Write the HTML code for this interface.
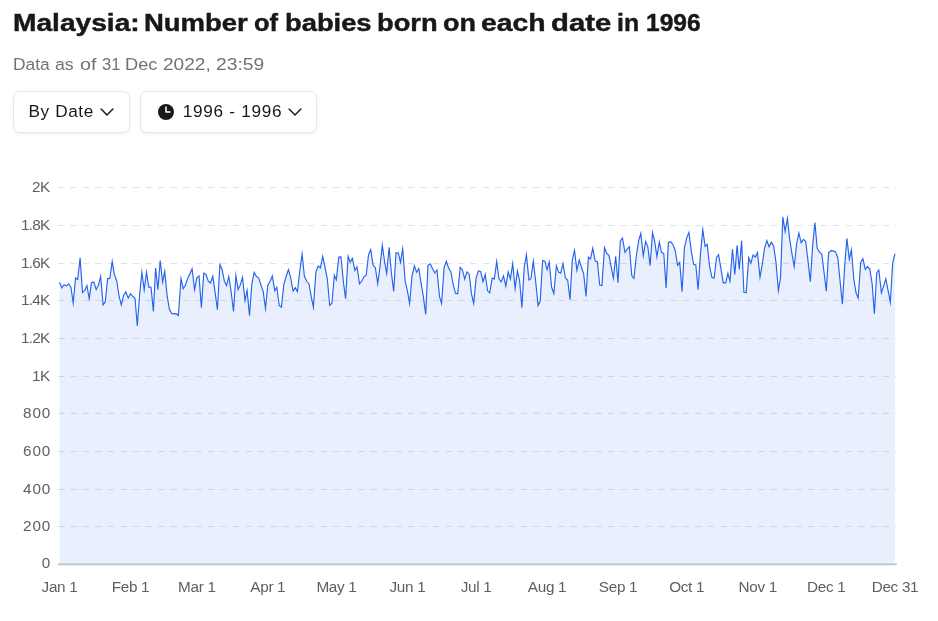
<!DOCTYPE html>
<html lang="en"><head><meta charset="utf-8"><title>Malaysia: Number of babies born on each date in 1996</title>
<style>
html,body{margin:0;padding:0;background:#fff}
body{width:938px;height:621px;position:relative;overflow:hidden;font-family:"Liberation Sans",sans-serif;color:#18181b}
h1{position:absolute;left:0;top:8.2px;margin:0;width:938px;height:30px;font-size:24.6px;line-height:30px;font-weight:700;white-space:nowrap;color:#18181b;-webkit-text-stroke:0.45px #18181b}
h1 span{position:absolute;top:0;transform-origin:0 0;display:block}
.sub{position:absolute;left:0;top:52.7px;width:938px;height:22px;font-size:17.2px;line-height:22px;color:#71717a;white-space:nowrap}
.sub span{position:absolute;top:0;transform-origin:0 0;display:block}
.btn{position:absolute;top:90.7px;height:42px;box-sizing:border-box;border:1.04px solid #e2e8f0;border-radius:6.5px;background:#fff;box-shadow:0 1px 2.5px rgba(15,23,42,0.07);font-size:17.2px;line-height:39px;color:#18181b;white-space:nowrap}
.btn span{position:absolute;top:0}
.btn svg{position:absolute}
.yl{position:absolute;left:0;width:50.3px;text-align:right;font-size:15.3px;line-height:20px;height:20px;color:#5f5f5f;white-space:nowrap}
.xl{position:absolute;top:576.5px;width:80px;text-align:center;font-size:15.3px;letter-spacing:-0.3px;line-height:20px;height:20px;color:#5f5f5f;white-space:nowrap}
svg.chart{position:absolute;left:0;top:0}
</style></head><body>
<h1><span style="left:13.0px;transform:scaleX(1.144)">Malaysia:</span> <span style="left:144.3px;transform:scaleX(1.117)">Number</span> <span style="left:254.4px;transform:scaleX(1.035)">of</span> <span style="left:285.3px;transform:scaleX(1.111)">babies</span> <span style="left:377.4px;transform:scaleX(1.108)">born</span> <span style="left:442.7px;transform:scaleX(1.096)">on</span> <span style="left:480.8px;transform:scaleX(1.152)">each</span> <span style="left:550.7px;transform:scaleX(1.190)">date</span> <span style="left:616.9px;transform:scaleX(1.010)">in</span> <span style="left:645.6px;transform:scaleX(0.998)">1996</span></h1>
<div class="sub"><span style="left:13.2px;transform:scaleX(1.014)">Data</span> <span style="left:55.4px;transform:scaleX(1.029)">as</span> <span style="left:79.5px;transform:scaleX(1.146)">of</span> <span style="left:102.0px;transform:scaleX(0.965)">31</span> <span style="left:124.7px;transform:scaleX(1.062)">Dec</span> <span style="left:162.5px;transform:scaleX(1.110)">2022,</span> <span style="left:215.5px;transform:scaleX(1.120)">23:59</span></div>
<div class="btn" style="left:13px;width:116.8px"><span style="left:14.5px;letter-spacing:0.6px">By Date</span>
<svg style="left:83.4px;top:10.8px" width="20" height="20" viewBox="0 0 20 20" fill="none" stroke="#18181b" stroke-width="1.45" stroke-linecap="round" stroke-linejoin="round"><path d="M4.1 7.0 L10 13.0 L15.9 7.0"/></svg></div>
<div class="btn" style="left:140.3px;width:176.6px">
<svg style="left:16.6px;top:12.1px" width="16" height="16" viewBox="0 0 16 16"><circle cx="8" cy="8" r="8" fill="#18181b"/><path d="M8 3 V8 H12" fill="none" stroke="#fff" stroke-width="1.5" stroke-linecap="round" stroke-linejoin="round"/></svg>
<span style="left:41.5px;letter-spacing:0.7px">1996 - 1996</span>
<svg style="left:143.9px;top:10.8px" width="20" height="20" viewBox="0 0 20 20" fill="none" stroke="#18181b" stroke-width="1.45" stroke-linecap="round" stroke-linejoin="round"><path d="M4.1 7.0 L10 13.0 L15.9 7.0"/></svg></div>
<svg class="chart" width="938" height="621" viewBox="0 0 938 621">
<g stroke="#dde4ef" stroke-width="1.1" stroke-dasharray="6.25 6.25" fill="none"><line x1="58.0" x2="896.8" y1="187.50" y2="187.50"/><line x1="58.0" x2="896.8" y1="225.45" y2="225.45"/><line x1="58.0" x2="896.8" y1="263.50" y2="263.50"/><line x1="58.0" x2="896.8" y1="300.45" y2="300.45"/><line x1="58.0" x2="896.8" y1="338.45" y2="338.45"/><line x1="58.0" x2="896.8" y1="376.45" y2="376.45"/><line x1="58.0" x2="896.8" y1="413.40" y2="413.40"/><line x1="58.0" x2="896.8" y1="451.45" y2="451.45"/><line x1="58.0" x2="896.8" y1="489.45" y2="489.45"/><line x1="58.0" x2="896.8" y1="526.45" y2="526.45"/></g>
<path d="M59.5 282.2 L61.8 287.9 L64.1 284.7 L66.4 285.9 L68.6 283.8 L70.9 287.2 L73.2 302.9 L75.6 278.0 L77.7 279.4 L80.1 257.9 L82.5 292.5 L84.7 290.4 L86.9 285.7 L89.2 298.7 L91.5 282.8 L93.8 282.0 L96.2 289.6 L98.4 285.3 L100.6 276.4 L103.1 304.9 L105.3 301.7 L107.6 278.6 L109.8 278.4 L112.2 261.6 L114.4 274.6 L116.7 280.7 L119.0 296.0 L121.3 304.9 L123.6 295.4 L125.8 291.9 L128.2 298.1 L130.5 293.7 L132.8 296.3 L135.0 298.3 L137.3 326.0 L139.6 294.8 L141.9 272.3 L144.2 289.9 L146.5 272.3 L148.8 287.2 L151.0 287.0 L153.4 311.4 L155.6 268.0 L157.9 289.7 L160.2 260.5 L162.6 282.1 L164.7 271.5 L167.1 295.4 L169.4 309.3 L171.7 313.4 L174.0 313.9 L176.2 313.7 L178.4 315.6 L181.0 278.6 L183.2 288.7 L185.4 285.3 L187.7 278.4 L190.0 273.6 L192.1 268.9 L194.6 289.7 L196.8 277.8 L199.0 275.9 L201.4 307.6 L203.8 273.0 L206.0 274.6 L208.3 281.2 L210.5 283.0 L212.8 276.3 L215.1 292.3 L217.4 309.6 L219.9 264.5 L222.0 268.9 L224.3 280.9 L226.5 285.6 L228.8 276.6 L231.2 292.3 L233.5 311.4 L235.9 275.5 L238.1 289.6 L240.3 284.9 L242.5 277.5 L245.0 300.5 L247.1 290.4 L249.5 315.6 L251.8 284.1 L254.2 272.4 L256.4 276.5 L258.6 277.8 L261.0 285.3 L263.2 291.6 L265.5 308.5 L267.8 285.3 L270.1 281.2 L272.3 276.0 L274.8 290.7 L276.8 287.2 L279.2 305.5 L281.4 307.1 L283.8 284.9 L286.1 276.5 L288.4 269.7 L290.7 277.8 L293.1 291.1 L295.3 287.7 L297.4 291.7 L299.9 270.0 L302.1 254.1 L304.4 276.3 L306.7 281.3 L309.0 283.9 L311.3 297.1 L313.4 307.2 L315.9 271.9 L318.2 266.0 L320.4 267.9 L322.7 256.3 L325.0 266.9 L327.3 278.8 L329.7 305.3 L331.9 303.3 L334.3 275.2 L336.3 279.8 L338.8 257.1 L341.0 256.9 L343.4 282.0 L345.6 298.7 L348.1 256.3 L350.2 262.1 L352.4 258.4 L354.9 270.4 L357.0 266.9 L359.5 283.9 L361.6 281.3 L363.9 276.9 L366.2 275.1 L368.5 255.0 L370.7 249.6 L373.1 265.0 L375.4 267.9 L377.7 283.7 L379.9 267.5 L382.3 245.3 L384.6 261.9 L386.7 273.5 L389.1 247.4 L391.4 273.2 L393.7 291.4 L396.0 252.9 L398.3 253.1 L400.5 262.4 L402.7 248.8 L405.2 281.3 L407.4 290.8 L409.6 303.5 L412.0 276.3 L414.4 265.8 L416.6 272.2 L418.8 268.7 L421.1 283.2 L423.4 297.1 L425.7 314.4 L428.0 265.4 L430.3 263.8 L432.6 268.8 L434.9 273.0 L437.0 270.0 L439.5 296.4 L441.6 303.6 L444.1 267.5 L446.3 261.2 L448.6 268.1 L450.9 271.9 L453.2 284.5 L455.5 293.3 L457.7 293.8 L460.2 267.3 L462.4 269.7 L464.7 279.2 L467.0 271.9 L469.2 274.2 L471.5 293.9 L473.7 303.4 L476.1 278.2 L478.4 271.0 L480.7 271.7 L483.0 281.7 L485.2 274.4 L487.6 290.8 L489.7 292.8 L492.2 278.1 L494.3 279.1 L496.7 261.6 L499.0 278.8 L501.2 281.9 L503.5 275.9 L505.8 286.2 L508.2 272.0 L510.4 278.9 L512.7 263.7 L515.1 288.6 L517.4 271.0 L519.6 280.7 L521.9 307.7 L524.2 267.5 L526.4 254.7 L528.9 279.9 L531.0 278.5 L533.3 261.2 L535.6 280.7 L538.1 305.6 L540.2 301.1 L542.6 260.4 L544.8 261.1 L547.1 269.6 L549.2 262.2 L551.6 287.2 L553.8 293.5 L556.4 265.8 L558.5 272.1 L560.7 273.2 L563.0 263.7 L565.4 277.8 L567.7 280.3 L570.0 299.8 L572.3 260.1 L574.5 250.4 L576.9 270.4 L579.2 260.0 L581.4 267.0 L583.7 274.0 L586.0 296.4 L588.4 257.2 L590.5 258.9 L592.8 248.2 L595.1 261.1 L597.4 261.6 L599.7 285.0 L601.9 285.5 L604.5 247.7 L606.6 253.2 L608.9 255.3 L611.1 266.4 L613.4 278.2 L615.7 256.3 L618.0 282.7 L620.3 240.9 L622.5 238.1 L625.0 252.5 L627.2 249.2 L629.3 246.7 L631.8 275.8 L633.9 278.3 L636.4 255.5 L638.6 240.9 L640.8 233.4 L643.3 255.8 L645.6 241.5 L647.8 246.6 L650.1 265.7 L652.5 232.6 L654.6 240.9 L656.9 256.7 L659.3 241.8 L661.5 252.3 L663.8 253.6 L666.1 287.9 L668.4 242.5 L670.7 241.6 L673.0 244.7 L675.2 250.4 L677.6 265.2 L679.7 262.4 L682.1 291.7 L684.4 247.9 L686.7 237.8 L688.9 232.4 L691.3 251.1 L693.6 264.4 L695.8 265.0 L698.1 289.7 L700.5 253.6 L702.8 229.6 L705.1 246.3 L707.2 244.4 L709.6 266.3 L711.9 277.4 L714.1 278.2 L716.5 257.4 L718.6 254.6 L721.0 268.8 L723.3 282.8 L725.6 282.8 L727.9 273.3 L730.0 281.1 L732.5 249.2 L734.8 274.5 L737.1 245.4 L739.3 269.5 L741.6 240.9 L743.9 292.3 L746.2 292.6 L748.7 257.6 L750.8 263.1 L753.1 255.1 L755.3 257.0 L757.5 252.5 L760.0 277.3 L762.2 264.4 L764.5 248.5 L766.8 240.6 L769.1 246.8 L771.4 242.2 L773.7 246.2 L776.0 262.5 L778.4 290.7 L780.5 278.0 L782.8 216.9 L785.1 231.5 L787.4 218.4 L789.7 239.6 L792.0 254.0 L794.2 266.7 L796.6 244.0 L798.9 233.2 L801.2 242.9 L803.5 239.3 L805.7 241.4 L808.0 261.0 L810.3 281.6 L812.6 246.5 L814.9 222.6 L817.2 248.4 L819.5 252.2 L821.8 254.1 L824.1 272.9 L826.3 291.1 L828.6 252.8 L830.9 250.6 L833.2 250.9 L835.5 251.9 L837.8 257.7 L840.1 281.4 L842.4 304.1 L844.7 265.7 L846.9 238.4 L849.3 259.2 L851.4 249.8 L853.8 279.1 L856.1 293.0 L858.2 298.1 L860.7 262.1 L862.9 258.7 L865.3 269.4 L867.5 266.7 L869.8 269.1 L872.1 283.5 L874.4 313.6 L876.7 272.9 L878.8 270.0 L881.4 292.9 L883.6 286.1 L885.8 278.9 L888.2 291.1 L890.3 302.4 L892.7 262.9 L895.0 253.7 L895.0 564.0 L59.5 564.0 Z" fill="rgba(37,99,235,0.1)" stroke="none"/>
<line x1="58.0" x2="896.9" y1="564.4" y2="564.4" stroke="#bcc5d6" stroke-width="1.6"/>
<path d="M59.5 282.2 L61.8 287.9 L64.1 284.7 L66.4 285.9 L68.6 283.8 L70.9 287.2 L73.2 302.9 L75.6 278.0 L77.7 279.4 L80.1 257.9 L82.5 292.5 L84.7 290.4 L86.9 285.7 L89.2 298.7 L91.5 282.8 L93.8 282.0 L96.2 289.6 L98.4 285.3 L100.6 276.4 L103.1 304.9 L105.3 301.7 L107.6 278.6 L109.8 278.4 L112.2 261.6 L114.4 274.6 L116.7 280.7 L119.0 296.0 L121.3 304.9 L123.6 295.4 L125.8 291.9 L128.2 298.1 L130.5 293.7 L132.8 296.3 L135.0 298.3 L137.3 326.0 L139.6 294.8 L141.9 272.3 L144.2 289.9 L146.5 272.3 L148.8 287.2 L151.0 287.0 L153.4 311.4 L155.6 268.0 L157.9 289.7 L160.2 260.5 L162.6 282.1 L164.7 271.5 L167.1 295.4 L169.4 309.3 L171.7 313.4 L174.0 313.9 L176.2 313.7 L178.4 315.6 L181.0 278.6 L183.2 288.7 L185.4 285.3 L187.7 278.4 L190.0 273.6 L192.1 268.9 L194.6 289.7 L196.8 277.8 L199.0 275.9 L201.4 307.6 L203.8 273.0 L206.0 274.6 L208.3 281.2 L210.5 283.0 L212.8 276.3 L215.1 292.3 L217.4 309.6 L219.9 264.5 L222.0 268.9 L224.3 280.9 L226.5 285.6 L228.8 276.6 L231.2 292.3 L233.5 311.4 L235.9 275.5 L238.1 289.6 L240.3 284.9 L242.5 277.5 L245.0 300.5 L247.1 290.4 L249.5 315.6 L251.8 284.1 L254.2 272.4 L256.4 276.5 L258.6 277.8 L261.0 285.3 L263.2 291.6 L265.5 308.5 L267.8 285.3 L270.1 281.2 L272.3 276.0 L274.8 290.7 L276.8 287.2 L279.2 305.5 L281.4 307.1 L283.8 284.9 L286.1 276.5 L288.4 269.7 L290.7 277.8 L293.1 291.1 L295.3 287.7 L297.4 291.7 L299.9 270.0 L302.1 254.1 L304.4 276.3 L306.7 281.3 L309.0 283.9 L311.3 297.1 L313.4 307.2 L315.9 271.9 L318.2 266.0 L320.4 267.9 L322.7 256.3 L325.0 266.9 L327.3 278.8 L329.7 305.3 L331.9 303.3 L334.3 275.2 L336.3 279.8 L338.8 257.1 L341.0 256.9 L343.4 282.0 L345.6 298.7 L348.1 256.3 L350.2 262.1 L352.4 258.4 L354.9 270.4 L357.0 266.9 L359.5 283.9 L361.6 281.3 L363.9 276.9 L366.2 275.1 L368.5 255.0 L370.7 249.6 L373.1 265.0 L375.4 267.9 L377.7 283.7 L379.9 267.5 L382.3 245.3 L384.6 261.9 L386.7 273.5 L389.1 247.4 L391.4 273.2 L393.7 291.4 L396.0 252.9 L398.3 253.1 L400.5 262.4 L402.7 248.8 L405.2 281.3 L407.4 290.8 L409.6 303.5 L412.0 276.3 L414.4 265.8 L416.6 272.2 L418.8 268.7 L421.1 283.2 L423.4 297.1 L425.7 314.4 L428.0 265.4 L430.3 263.8 L432.6 268.8 L434.9 273.0 L437.0 270.0 L439.5 296.4 L441.6 303.6 L444.1 267.5 L446.3 261.2 L448.6 268.1 L450.9 271.9 L453.2 284.5 L455.5 293.3 L457.7 293.8 L460.2 267.3 L462.4 269.7 L464.7 279.2 L467.0 271.9 L469.2 274.2 L471.5 293.9 L473.7 303.4 L476.1 278.2 L478.4 271.0 L480.7 271.7 L483.0 281.7 L485.2 274.4 L487.6 290.8 L489.7 292.8 L492.2 278.1 L494.3 279.1 L496.7 261.6 L499.0 278.8 L501.2 281.9 L503.5 275.9 L505.8 286.2 L508.2 272.0 L510.4 278.9 L512.7 263.7 L515.1 288.6 L517.4 271.0 L519.6 280.7 L521.9 307.7 L524.2 267.5 L526.4 254.7 L528.9 279.9 L531.0 278.5 L533.3 261.2 L535.6 280.7 L538.1 305.6 L540.2 301.1 L542.6 260.4 L544.8 261.1 L547.1 269.6 L549.2 262.2 L551.6 287.2 L553.8 293.5 L556.4 265.8 L558.5 272.1 L560.7 273.2 L563.0 263.7 L565.4 277.8 L567.7 280.3 L570.0 299.8 L572.3 260.1 L574.5 250.4 L576.9 270.4 L579.2 260.0 L581.4 267.0 L583.7 274.0 L586.0 296.4 L588.4 257.2 L590.5 258.9 L592.8 248.2 L595.1 261.1 L597.4 261.6 L599.7 285.0 L601.9 285.5 L604.5 247.7 L606.6 253.2 L608.9 255.3 L611.1 266.4 L613.4 278.2 L615.7 256.3 L618.0 282.7 L620.3 240.9 L622.5 238.1 L625.0 252.5 L627.2 249.2 L629.3 246.7 L631.8 275.8 L633.9 278.3 L636.4 255.5 L638.6 240.9 L640.8 233.4 L643.3 255.8 L645.6 241.5 L647.8 246.6 L650.1 265.7 L652.5 232.6 L654.6 240.9 L656.9 256.7 L659.3 241.8 L661.5 252.3 L663.8 253.6 L666.1 287.9 L668.4 242.5 L670.7 241.6 L673.0 244.7 L675.2 250.4 L677.6 265.2 L679.7 262.4 L682.1 291.7 L684.4 247.9 L686.7 237.8 L688.9 232.4 L691.3 251.1 L693.6 264.4 L695.8 265.0 L698.1 289.7 L700.5 253.6 L702.8 229.6 L705.1 246.3 L707.2 244.4 L709.6 266.3 L711.9 277.4 L714.1 278.2 L716.5 257.4 L718.6 254.6 L721.0 268.8 L723.3 282.8 L725.6 282.8 L727.9 273.3 L730.0 281.1 L732.5 249.2 L734.8 274.5 L737.1 245.4 L739.3 269.5 L741.6 240.9 L743.9 292.3 L746.2 292.6 L748.7 257.6 L750.8 263.1 L753.1 255.1 L755.3 257.0 L757.5 252.5 L760.0 277.3 L762.2 264.4 L764.5 248.5 L766.8 240.6 L769.1 246.8 L771.4 242.2 L773.7 246.2 L776.0 262.5 L778.4 290.7 L780.5 278.0 L782.8 216.9 L785.1 231.5 L787.4 218.4 L789.7 239.6 L792.0 254.0 L794.2 266.7 L796.6 244.0 L798.9 233.2 L801.2 242.9 L803.5 239.3 L805.7 241.4 L808.0 261.0 L810.3 281.6 L812.6 246.5 L814.9 222.6 L817.2 248.4 L819.5 252.2 L821.8 254.1 L824.1 272.9 L826.3 291.1 L828.6 252.8 L830.9 250.6 L833.2 250.9 L835.5 251.9 L837.8 257.7 L840.1 281.4 L842.4 304.1 L844.7 265.7 L846.9 238.4 L849.3 259.2 L851.4 249.8 L853.8 279.1 L856.1 293.0 L858.2 298.1 L860.7 262.1 L862.9 258.7 L865.3 269.4 L867.5 266.7 L869.8 269.1 L872.1 283.5 L874.4 313.6 L876.7 272.9 L878.8 270.0 L881.4 292.9 L883.6 286.1 L885.8 278.9 L888.2 291.1 L890.3 302.4 L892.7 262.9 L895.0 253.7" fill="none" stroke="#2563eb" stroke-width="1.15" stroke-linejoin="miter" stroke-miterlimit="10" stroke-linecap="butt"/>
</svg>
<div class="yl" style="top:176.80px;letter-spacing:-0.4px;width:49.90px">2K</div><div class="yl" style="top:214.75px;letter-spacing:-0.7px;width:49.60px">1.8K</div><div class="yl" style="top:252.80px;letter-spacing:-0.7px;width:49.60px">1.6K</div><div class="yl" style="top:289.75px;letter-spacing:-0.7px;width:49.60px">1.4K</div><div class="yl" style="top:327.75px;letter-spacing:-0.7px;width:49.60px">1.2K</div><div class="yl" style="top:365.75px;letter-spacing:-0.4px;width:49.90px">1K</div><div class="yl" style="top:402.70px;letter-spacing:0.85px;width:51.15px">800</div><div class="yl" style="top:440.75px;letter-spacing:0.85px;width:51.15px">600</div><div class="yl" style="top:478.75px;letter-spacing:0.85px;width:51.15px">400</div><div class="yl" style="top:515.75px;letter-spacing:0.85px;width:51.15px">200</div><div class="yl" style="top:553.40px;letter-spacing:0px;width:50.30px">0</div>
<div class="xl" style="left:19.50px">Jan 1</div><div class="xl" style="left:90.46px">Feb 1</div><div class="xl" style="left:156.84px">Mar 1</div><div class="xl" style="left:227.80px">Apr 1</div><div class="xl" style="left:296.47px">May 1</div><div class="xl" style="left:367.43px">Jun 1</div><div class="xl" style="left:436.11px">Jul 1</div><div class="xl" style="left:507.07px">Aug 1</div><div class="xl" style="left:578.03px">Sep 1</div><div class="xl" style="left:646.70px">Oct 1</div><div class="xl" style="left:717.66px">Nov 1</div><div class="xl" style="left:786.33px">Dec 1</div><div class="xl" style="left:855.00px">Dec 31</div>
</body></html>
